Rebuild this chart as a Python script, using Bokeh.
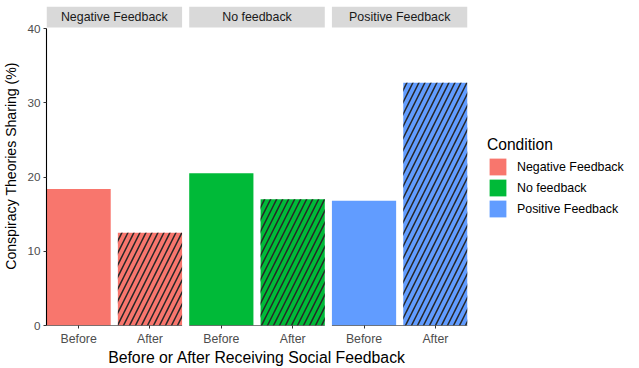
from bokeh.plotting import figure
from bokeh.layouts import row
from bokeh.models import ColumnDataSource, Range1d, FixedTicker, Legend, LegendItem
from bokeh.embed import file_html
from bokeh.resources import INLINE
from bokeh.core.properties import value

# ---- data ----
conditions = ["Negative Feedback", "No feedback", "Positive Feedback"]
timings = ["Before", "After"]
before_values = [18.4, 20.5, 16.8]
after_values = [12.5, 17.0, 32.7]
colors = ["#F8766D", "#00BA38", "#619CFF"]
y_ticks = [0, 10, 20, 30, 40]

FONT = "Liberation Sans"
STEP = 2          # category slots per facet panel
BAR_W = 0.9
Y_MAX = 40
Y_TOP = 42.963     # room for facet strips
STRIP_BOTTOM = 40.135
H = 368

xs, tops, fills, hatches = [], [], [], []
for k, cond in enumerate(conditions):
    for j, t in enumerate(timings):
        xs.append(k * STEP + j + 1)
        tops.append(before_values[k] if j == 0 else after_values[k])
        fills.append(colors[k])
        hatches.append(" " if j == 0 else "/")

src = ColumnDataSource(dict(x=xs, top=tops, fill=fills, hatch=hatches))

panel_x0 = [k * STEP + 1 - BAR_W / 2 for k in range(len(conditions))]
panel_x1 = [k * STEP + len(timings) + BAR_W / 2 for k in range(len(conditions))]
panel_xc = [(a + b) / 2 for a, b in zip(panel_x0, panel_x1)]

p = figure(width=470, height=H,
           x_range=Range1d(panel_x0[0], panel_x1[-1]),
           y_range=Range1d(0, Y_TOP),
           output_backend="svg", toolbar_location=None,
           min_border_left=46, min_border_right=3, min_border_top=6, min_border_bottom=43)
p.outline_line_color = None
p.xgrid.visible = False
p.ygrid.visible = False
p.background_fill_color = "white"
p.border_fill_color = "white"

bars = p.vbar(x="x", top="top", width=BAR_W, bottom=0, source=src,
              fill_color="fill", line_color=None,
              hatch_pattern="hatch", hatch_color="#262626", hatch_weight=1.5, hatch_scale=12)

# per-panel baselines (x axis lines)
p.segment(x0=panel_x0, y0=[0] * 3, x1=panel_x1, y1=[0] * 3, line_color="black", line_width=1.1)

# facet strips
p.quad(left=panel_x0, right=panel_x1, bottom=[STRIP_BOTTOM] * 3, top=[Y_TOP] * 3,
       fill_color="#D9D9D9", line_color=None)
p.text(x=panel_xc, y=[(STRIP_BOTTOM + Y_TOP) / 2] * 3, text=conditions,
       text_align="center", text_baseline="middle",
       text_font=value(FONT), text_font_size="12.4px", text_color="#1A1A1A")

# y axis
ya = p.yaxis[0]
ya.ticker = FixedTicker(ticks=y_ticks)
ya.bounds = (0, Y_MAX)
ya.axis_line_color = "black"
ya.axis_line_width = 1.1
ya.major_tick_out = 3
ya.major_tick_in = 0
ya.major_tick_line_color = "#333333"
ya.minor_tick_line_color = None
ya.major_label_standoff = 3
ya.major_label_text_font = FONT
ya.major_label_text_font_size = "11.7px"
ya.major_label_text_color = "#4D4D4D"
ya.axis_label = "Conspiracy Theories Sharing (%)"
ya.axis_label_text_font = FONT
ya.axis_label_text_font_size = "14.1px"
ya.axis_label_text_font_style = "normal"
ya.axis_label_text_color = "black"
ya.axis_label_standoff = 5

# x axis
xa = p.xaxis[0]
xa.ticker = FixedTicker(ticks=xs)
xa.major_label_overrides = {x: timings[i % len(timings)] for i, x in enumerate(xs)}
xa.axis_line_color = None
xa.major_tick_out = 3
xa.major_tick_in = 0
xa.major_tick_line_color = "#333333"
xa.minor_tick_line_color = None
xa.major_label_standoff = 3
xa.major_label_text_font = FONT
xa.major_label_text_font_size = "12.3px"
xa.major_label_text_color = "#4D4D4D"
xa.axis_label = "Before or After Receiving Social Feedback"
xa.axis_label_text_font = FONT
xa.axis_label_text_font_size = "15.8px"
xa.axis_label_text_font_style = "normal"
xa.axis_label_text_color = "black"
xa.axis_label_standoff = 0

# ---- legend panel ----
lg = figure(width=165, height=H, x_range=Range1d(0, 1), y_range=Range1d(0, 1),
            output_backend="svg", toolbar_location=None,
            x_axis_type=None, y_axis_type=None,
            min_border_left=0, min_border_right=0, min_border_top=0, min_border_bottom=0)
lg.outline_line_color = None
lg.xgrid.visible = False
lg.ygrid.visible = False
key_renderers = [lg.quad(left=[5], right=[6], bottom=[5], top=[6], fill_color=c, line_color=None)
                 for c in colors]
items = [LegendItem(label=c, renderers=[r]) for c, r in zip(conditions, key_renderers)]
legend = Legend(items=items, title="Condition", location=(17, 106),
                border_line_color=None, background_fill_alpha=0,
                padding=0, margin=0, spacing=0,
                glyph_width=21, glyph_height=21, label_height=21, label_standoff=9,
                title_standoff=2,
                label_text_font=FONT, label_text_font_size="12.4px", label_text_color="black",
                title_text_font=FONT, title_text_font_size="15.6px",
                title_text_font_style="normal", title_text_color="black")
lg.add_layout(legend, "center")

open("out.html", "w").write(file_html(row(p, lg), INLINE))
